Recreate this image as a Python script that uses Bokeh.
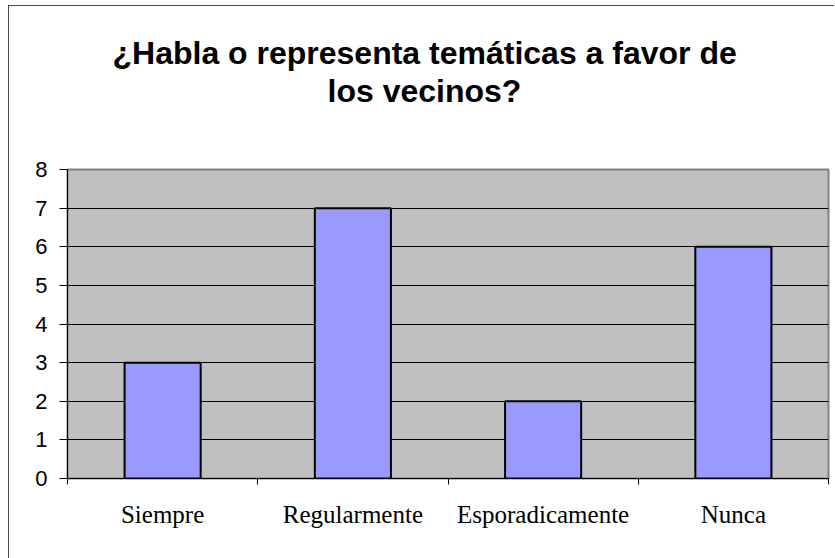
from bokeh.plotting import figure
from bokeh.models import Range1d, LinearAxis, FixedTicker, ColumnDataSource, Title
from bokeh.embed import file_html
from bokeh.resources import INLINE

categories = ["Siempre", "Regularmente", "Esporadicamente", "Nunca"]
values = [3, 7, 2, 6]
y_ticks = [0, 1, 2, 3, 4, 5, 6, 7, 8]
title_lines = ["¿Habla o representa temáticas a favor de", "los vecinos?"]

n = len(categories)
centers = [i + 0.5 for i in range(n)]
src = ColumnDataSource(dict(x=centers, top=values, cat=categories))

W, H = 826, 553
p = figure(x_range=Range1d(0, n), y_range=Range1d(0, 8),
           width=W, height=H, output_backend="svg", toolbar_location=None,
           x_axis_location=None, title=None,
           min_border_left=59, min_border_right=6, min_border_top=164, min_border_bottom=80)
p.margin = (5, 0, 0, 8)
p.styles = {"outline": "2px solid #111111", "outline-offset": "-2px"}

# spacer between plot area and title, then the two title lines
p.add_layout(Title(text=" ", standoff=48, text_font_size="10px"), "above")
title_style = dict(align="left", text_font="Liberation Sans", text_font_style="bold",
                   text_font_size="32px", text_color="black", standoff=0)
p.add_layout(Title(text=title_lines[1], offset=260, **title_style), "above")
p.add_layout(Title(text=title_lines[0], offset=45, **title_style), "above")

p.background_fill_color = "#C0C0C0"
p.border_fill_color = "white"
p.outline_line_color = "#808080"
p.outline_line_width = 2

p.vbar(x="x", top="top", width=0.4, source=src, fill_color="#9999FF",
       line_color="black", line_width=2)

# y axis
p.yaxis.ticker = FixedTicker(ticks=y_ticks)
p.yaxis.major_label_text_font = "Liberation Sans"
p.yaxis.major_label_text_font_size = "22px"
p.yaxis.major_label_text_color = "black"
p.yaxis.major_tick_out = 8
p.yaxis.major_tick_in = 0
p.yaxis.minor_tick_line_color = None
p.yaxis.axis_line_color = "black"
p.yaxis.major_tick_line_color = "black"
p.yaxis.major_label_standoff = 12

p.ygrid.ticker = FixedTicker(ticks=y_ticks)
p.ygrid.grid_line_color = "black"
p.ygrid.grid_line_width = 1
p.xgrid.grid_line_color = None

# x axis: ticks at category edges
edge_axis = LinearAxis(ticker=FixedTicker(ticks=list(range(n + 1))),
                       major_label_overrides={i: "" for i in range(n + 1)},
                       major_tick_out=6, major_tick_in=0,
                       minor_tick_line_color=None,
                       axis_line_color="black", major_tick_line_color="black",
                       major_label_text_font_size="1px", major_label_standoff=0)
p.add_layout(edge_axis, "below")

cat_axis = LinearAxis(ticker=FixedTicker(ticks=centers),
                      major_label_overrides={c: cat for c, cat in zip(centers, categories)},
                      major_tick_line_color=None, axis_line_color=None,
                      minor_tick_line_color=None,
                      major_label_text_font="Liberation Serif",
                      major_label_text_font_size="25px",
                      major_label_text_color="black",
                      major_label_standoff=10)
p.add_layout(cat_axis, "below")

open("out.html", "w").write(file_html(p, INLINE))
